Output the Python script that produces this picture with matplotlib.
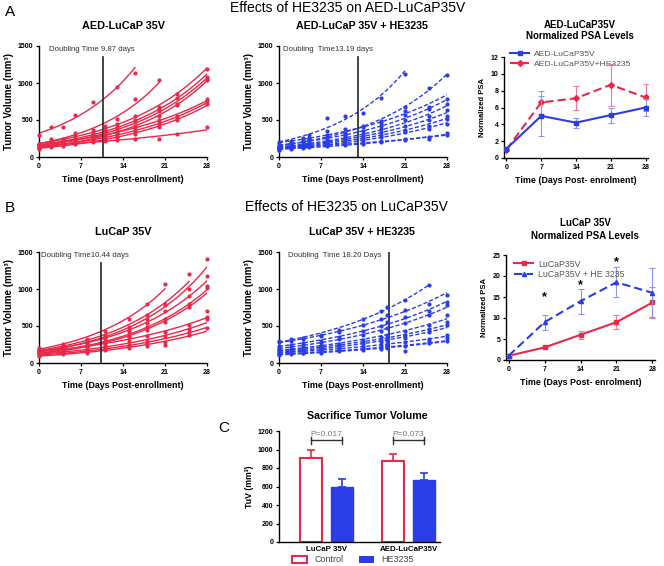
import numpy as np
import matplotlib
matplotlib.use('Agg')
import matplotlib.pyplot as plt
from matplotlib.patches import Patch
from matplotlib.lines import Line2D

W, H = 664, 566
plt.rcParams['font.family'] = ['Liberation Sans', 'DejaVu Sans']

RED = '#e8294a'
BLUE = '#2a3de6'
PINK = '#ee7aa0'
LBLUE = '#8a96e8'
nan = np.nan

# ---------------- data ----------------
tick_days = [0, 7, 14, 21, 28]

# Panel A, left: AED-LuCaP 35V (control)
a1_days = [0, 2, 4, 6, 9, 11, 13, 16, 20, 23, 28]
a1_tumors = [
    [300, 400, 410, 570, 750, nan, 940, 1130, nan, nan, nan],
    [180, 240, 230, 330, 360, 420, 520, 780, 1040, nan, nan],
    [170, 210, 250, 280, 330, 380, 450, 560, 680, 850, 1190],
    [150, 190, 220, 250, 300, 350, 400, 500, 650, 800, 1080],
    [140, 170, 200, 230, 280, 320, 370, 470, 620, 720, 1060],
    [120, 150, 180, 200, 250, 290, 330, 420, 560, 700, 1040],
    [160, 190, 200, 230, 270, 300, 330, 390, 500, 560, 780],
    [130, 160, 180, 200, 230, 260, 290, 350, 460, 530, 760],
    [110, 140, 150, 180, 210, 240, 270, 310, 410, 500, 720],
    [150, 160, 170, 190, 200, 210, 230, 250, 250, 310, 400],
]
a1_doubling_day = 10.7
a1_label = 'Doubling Time 9.87 days'

# Panel A, middle: AED-LuCaP 35V + HE3235
a2_days = [0, 2, 4, 5, 8, 11, 14, 17, 21, 25, 28]
a2_tumors = [
    [200, 220, 260, 300, 530, 560, 600, 800, 1120, nan, nan],
    [140, 170, 200, 250, 300, 330, 400, 480, 680, 930, 1110],
    [180, 200, 230, 260, 350, 380, 420, 460, 620, 680, 790],
    [150, 170, 200, 240, 260, 300, 350, 420, 570, 650, 720],
    [130, 150, 160, 200, 220, 280, 310, 380, 500, 560, 640],
    [120, 140, 160, 180, 210, 250, 290, 340, 420, 500, 560],
    [110, 130, 150, 170, 190, 230, 260, 300, 360, 420, 520],
    [100, 120, 130, 150, 180, 200, 230, 270, 340, 380, 440],
    [120, 130, 140, 150, 160, 180, 190, 210, 230, 250, 320],
    [100, 110, 120, 130, 150, 160, 180, 200, 240, 270, 300],
]
a2_doubling_day = 13.2
a2_label = 'Doubling  Time13.19 days'

# Panel B, left: LuCaP 35V (control)
b1_days = [0, 4, 8, 11, 15, 18, 21, 25, 28]
b1_tumors = [
    [200, 260, 330, 430, 600, 800, 1070, nan, nan],
    [180, 230, 300, 380, 480, 650, 800, 1200, nan],
    [160, 220, 270, 340, 450, 600, 780, 1000, 1400],
    [170, 210, 260, 320, 420, 540, 700, 900, 1180],
    [140, 180, 230, 280, 370, 480, 600, 800, 1040],
    [130, 170, 220, 270, 350, 450, 560, 760, 1010],
    [170, 190, 220, 250, 300, 360, 420, 520, 700],
    [130, 150, 180, 210, 250, 300, 360, 460, 620],
    [110, 140, 160, 190, 230, 270, 250, 420, 600],
    [100, 120, 140, 170, 200, 230, 280, 380, 470],
]
b1_doubling_day = 10.4
b1_label = 'Doubling Time10.44 days'

# Panel B, middle: LuCaP 35V + HE3235
b2_days = [0, 2, 4, 7, 10, 14, 17, 18, 21, 25, 28]
b2_tumors = [
    [300, 320, 340, 380, 450, 600, 700, 760, 850, 1060, nan],
    [280, 300, 320, 360, 420, 520, 600, 650, 720, 800, 920],
    [230, 250, 270, 300, 350, 430, 500, 550, 620, 700, 830],
    [200, 220, 240, 270, 320, 380, 430, 470, 540, 650, 780],
    [180, 190, 210, 230, 260, 310, 350, 380, 430, 520, 650],
    [170, 180, 190, 210, 240, 280, 310, 330, 380, 460, 560],
    [150, 160, 170, 190, 220, 260, 290, 300, 340, 420, 520],
    [140, 150, 160, 170, 190, 220, 240, 250, 280, 330, 380],
    [120, 130, 140, 150, 170, 200, 220, 230, 160, 300, 340],
    [110, 120, 130, 140, 160, 180, 190, 200, 230, 270, 300],
]
b2_doubling_day = 18.3
b2_label = 'Doubling  Time 18.20 Days'

# PSA, panel A
psa_days = [0, 7, 14, 21, 28]
aed_psa = [1.1, 5.0, 4.2, 5.1, 6.0]
aed_psa_err = [0.2, 2.4, 0.6, 0.9, 1.0]
aed_he_psa = [1.0, 6.6, 7.1, 8.7, 7.2]
aed_he_psa_err = [0.2, 1.4, 1.4, 2.5, 1.6]

# PSA, panel B
luc_psa = [1.0, 3.0, 6.0, 9.0, 13.7]
luc_psa_err = [0.2, 0.4, 1.0, 1.6, 3.8]
luc_he_psa = [1.0, 9.0, 14.0, 18.5, 16.0]
luc_he_psa_err = [0.2, 1.8, 3.0, 3.6, 5.8]
star_days = [7, 14, 21]
star_levels = [15.0, 17.8, 23.3]

# Panel C
groups = ['LuCaP 35V', 'AED-LuCaP35V']
control_tuv = [910, 875]
control_sem = [90, 75]
he_tuv = [600, 665]
he_sem = [80, 85]
p_labels = ['P=0.017', 'P=0.073']

# ---------------- helpers ----------------
fig = plt.figure(figsize=(W / 100, H / 100), dpi=100)


def add_ax(l, t, r, b):
    return fig.add_axes([l / W, 1 - b / H, (r - l) / W, (b - t) / H])


def ftext(x, y, s, **kw):
    kw.setdefault('ha', 'center')
    kw.setdefault('va', 'center')
    fig.text(x / W, 1 - y / H, s, **kw)


def style(ax, size=5):
    for s in ['top', 'right']:
        ax.spines[s].set_visible(False)
    for s in ['left', 'bottom']:
        ax.spines[s].set_linewidth(1.0)
    ax.tick_params(length=2.5, width=0.9, labelsize=size, pad=1.5)
    for lab in ax.get_xticklabels() + ax.get_yticklabels():
        lab.set_fontweight('bold')


def growth(ax, days, tumors, color, ls, vday, vtop, label, label_x):
    d = np.array(days, float)
    for v in tumors:
        v = np.array(v, float)
        m = ~np.isnan(v)
        ax.plot(d[m], v[m], ls='none', marker='o', ms=2, color=color,
                clip_on=False, zorder=3)
        k, c = np.polyfit(d[m], np.log(v[m]), 1)
        xx = np.linspace(0, d[m][-1], 60)
        ax.plot(xx, np.exp(c + k * xx), color=color, ls=ls, lw=1.0,
                dashes=(3, 1.5) if ls == '--' else (None, None))
    ax.axvline(vday, ymax=vtop, color='#1c2a28', lw=1.2)
    ax.set_xlim(0, 28)
    ax.set_ylim(0, 1500)
    ax.set_xticks(tick_days)
    ax.set_yticks([0, 500, 1000, 1500])
    ax.set_ylabel('Tumor Volume (mm³)', fontsize=7, fontweight='bold', labelpad=3)
    ax.set_xlabel('Time (Days Post-enrollment)', fontsize=6.4, fontweight='bold', labelpad=4)
    ax.text(label_x, 0.965, label, transform=ax.transAxes, fontsize=5.6,
            color='#333333', va='center', ha='left')
    style(ax)


# ---------------- panel A ----------------
ftext(10, 12, 'A', fontsize=11)
ftext(348, 8, 'Effects of HE3235 on AED-LuCaP35V', fontsize=10)
ftext(123, 26, 'AED-LuCaP 35V', fontsize=7.8, fontweight='bold')
ftext(362, 26, 'AED-LuCaP 35V + HE3235', fontsize=7.7, fontweight='bold')

ax = add_ax(39, 46, 207, 157)
growth(ax, a1_days, a1_tumors, RED, '-', a1_doubling_day, 0.9, a1_label, 0.06)
ax = add_ax(279, 46, 447, 157)
growth(ax, a2_days, a2_tumors, BLUE, '--', a2_doubling_day, 0.9, a2_label, 0.025)

ftext(580, 25, 'AED-LuCaP35V', fontsize=7, fontweight='bold')
ftext(580, 36, 'Normalized PSA Levels', fontsize=7, fontweight='bold')
ax = add_ax(504, 57, 648, 158)
ax.errorbar(psa_days, aed_he_psa, yerr=aed_he_psa_err, color=RED, ls='--', lw=1.5,
            marker='D', ms=3, ecolor=PINK, elinewidth=0.8, capsize=2, capthick=0.8,
            dashes=(4, 2), zorder=2)
ax.errorbar(psa_days, aed_psa, yerr=aed_psa_err, color=BLUE, ls='-', lw=1.5,
            marker='s', ms=3, ecolor=LBLUE, elinewidth=0.8, capsize=2, capthick=0.8,
            zorder=3)
ax.set_xlim(-0.5, 28.5)
ax.set_ylim(0, 12)
ax.set_xticks(tick_days)
ax.set_yticks(range(0, 13, 2))
ax.set_ylabel('Normalized PSA', fontsize=5.5, fontweight='bold', labelpad=3)
ax.set_xlabel('Time (Days Post- enrolment)', fontsize=6.4, fontweight='bold', labelpad=4)
h = [Line2D([], [], color=BLUE, marker='s', ms=3, lw=1.5),
     Line2D([], [], color=RED, marker='D', ms=3, lw=1.5, ls='--', dashes=(4, 2))]
ax.legend(h, ['AED-LuCaP35V', 'AED-LuCaP35V+HE3235'], loc='upper left',
          bbox_to_anchor=(0.02, 1.1), frameon=False, fontsize=6.1,
          labelcolor='#555555', handlelength=2.2, borderaxespad=0, labelspacing=0.2,
          handletextpad=0.6)
style(ax)

# ---------------- panel B ----------------
ftext(10, 208, 'B', fontsize=11)
ftext(346, 207, 'Effects of HE3235 on LuCaP35V', fontsize=10)
ftext(123, 232, 'LuCaP 35V', fontsize=7.8, fontweight='bold')
ftext(362, 232, 'LuCaP 35V + HE3235', fontsize=7.7, fontweight='bold')

ax = add_ax(39, 252, 207, 363)
growth(ax, b1_days, b1_tumors, RED, '-', b1_doubling_day, 0.9, b1_label, 0.012)
ax = add_ax(279, 252, 447, 363)
growth(ax, b2_days, b2_tumors, BLUE, '--', b2_doubling_day, 1.0, b2_label, 0.055)

ftext(585, 223, 'LuCaP 35V', fontsize=7, fontweight='bold')
ftext(585, 236, 'Normalized PSA Levels', fontsize=7, fontweight='bold')
ax = add_ax(506, 255, 655, 360)
ax.errorbar(psa_days, luc_psa, yerr=luc_psa_err, color=RED, ls='-', lw=1.5,
            marker='s', ms=3, ecolor=PINK, elinewidth=0.8, capsize=2, capthick=0.8,
            zorder=2)
ax.errorbar(psa_days, luc_he_psa, yerr=luc_he_psa_err, color=BLUE, ls='--', lw=1.5,
            marker='^', ms=3, ecolor=LBLUE, elinewidth=0.8, capsize=2, capthick=0.8,
            dashes=(4, 2), zorder=3)
for d, s in zip(star_days, star_levels):
    ax.text(d, s, '*', fontsize=9, fontweight='bold', ha='center', va='center')
ax.set_xlim(-0.5, 28.5)
ax.set_ylim(0, 25)
ax.set_xticks(tick_days)
ax.set_yticks(range(0, 26, 5))
ax.set_ylabel('Normalized PSA', fontsize=5.5, fontweight='bold', labelpad=3)
ax.set_xlabel('Time (Days Post- enrolment)', fontsize=6.4, fontweight='bold', labelpad=4)
h = [Line2D([], [], color=RED, marker='s', ms=3, lw=1.5),
     Line2D([], [], color=BLUE, marker='^', ms=3, lw=1.5, ls='--', dashes=(4, 2))]
ax.legend(h, ['LuCaP35V', 'LuCaP35V + HE 3235'], loc='upper left',
          bbox_to_anchor=(0.03, 0.99), frameon=False, fontsize=6.3,
          labelcolor='#555555', handlelength=2.2, borderaxespad=0, labelspacing=0.2,
          handletextpad=0.6)
style(ax)

# ---------------- panel C ----------------
ftext(224, 428, 'C', fontsize=11)
ftext(367, 416, 'Sacrifice Tumor Volume', fontsize=7.7, fontweight='bold')
ax = add_ax(279, 431, 440, 542)
gx = np.arange(len(groups))
off, bw = 0.19, 0.26
ax.bar(gx - off, control_tuv, width=bw, facecolor='white', edgecolor=RED, lw=1.5,
       yerr=[np.zeros(len(groups)), control_sem], ecolor=RED,
       error_kw=dict(elinewidth=1.2, capsize=3, capthick=1.2))
ax.bar(gx + off, he_tuv, width=bw, facecolor=BLUE, edgecolor=BLUE, lw=1.0,
       yerr=[np.zeros(len(groups)), he_sem], ecolor=BLUE,
       error_kw=dict(elinewidth=1.2, capsize=3, capthick=1.2))
for g, p in zip(gx, p_labels):
    yb = 1100
    ax.plot([g - off, g + off], [yb, yb], color='#333333', lw=1.0)
    ax.plot([g - off, g - off], [yb - 40, yb + 40], color='#333333', lw=1.0)
    ax.plot([g + off, g + off], [yb - 40, yb + 40], color='#333333', lw=1.0)
    ax.text(g, yb + 25, p, fontsize=6, color='#777777', ha='center', va='bottom')
ax.set_xlim(-0.58, 1.384)
ax.set_ylim(0, 1200)
ax.set_yticks(range(0, 1201, 200))
ax.set_xticks(gx)
ax.set_xticklabels(groups)
ax.set_ylabel('TuV (mm³)', fontsize=6.3, fontweight='bold', labelpad=3)
style(ax)
ax.tick_params(axis='x', length=0, labelsize=5.7, pad=3)
fig.legend([Patch(facecolor='white', edgecolor=RED, lw=1.5), Patch(facecolor=BLUE)],
           ['Control', 'HE3235'], loc='center', bbox_to_anchor=(353 / W, 1 - 560 / H),
           ncol=2, frameon=False, fontsize=6.5, handlelength=1.6, handleheight=0.8,
           columnspacing=1.8, labelcolor='#444444')

fig.savefig('out.png', dpi=100)
